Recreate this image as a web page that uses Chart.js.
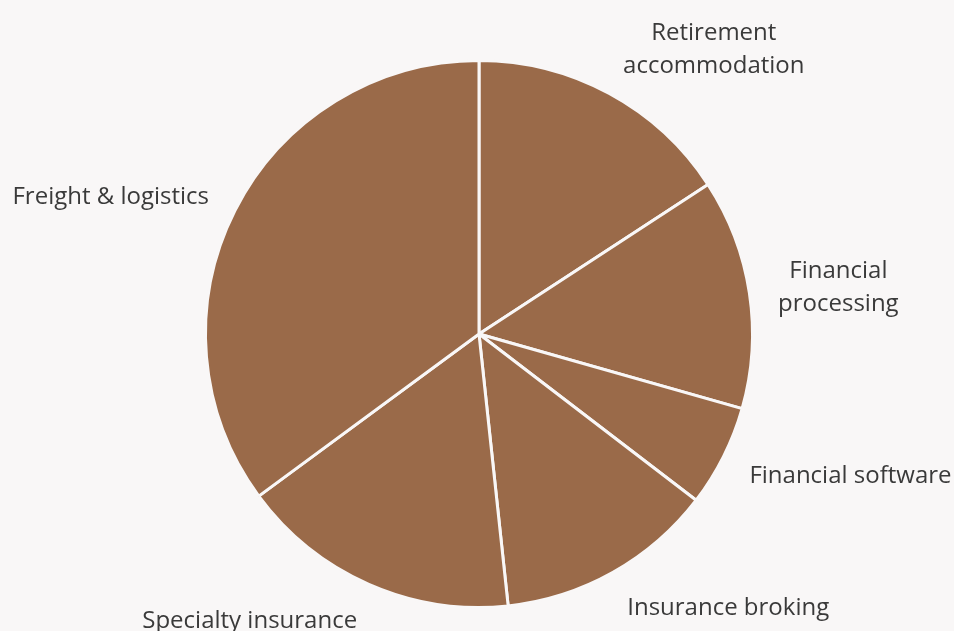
<!DOCTYPE html>
<html>
<head>
<meta charset="utf-8">
<script src="https://cdn.jsdelivr.net/npm/chart.js@4/dist/chart.umd.min.js"></script>
<style>
  html, body { margin: 0; padding: 0; background: #f9f7f7; }
  #wrap { width: 954px; height: 631px; position: relative; }
</style>
</head>
<body>
<div id="wrap"><canvas id="c" width="954" height="631"></canvas></div>
<script>
const categories = [
  ["Retirement", "accommodation"],
  ["Financial", "processing"],
  ["Financial software"],
  ["Insurance broking"],
  ["Specialty insurance"],
  ["Freight & logistics"]
];
const shares = [15.8, 13.6, 6.0, 12.9, 16.6, 35.1];

const sliceColor = "#9a6a49";
const labelColor = "#3a3a3a";
const labelFont = '24px "Open Sans"';
const lineHeight = 33;
const labelGap = 29;

const outsideLabels = {
  id: "outsideLabels",
  afterDatasetsDraw(chart) {
    const ctx = chart.ctx;
    const meta = chart.getDatasetMeta(0);
    ctx.save();
    ctx.font = labelFont;
    ctx.fillStyle = labelColor;
    ctx.textBaseline = "middle";
    meta.data.forEach((arc, i) => {
      const p = arc.getProps(["x", "y", "startAngle", "endAngle", "outerRadius"], true);
      const mid = (p.startAngle + p.endAngle) / 2;
      const r = p.outerRadius + labelGap;
      const ax = p.x + Math.cos(mid) * r;
      const ay = p.y + Math.sin(mid) * r + 8 * Math.sin(mid) + 3;
      const lines = categories[i];
      const right = Math.cos(mid) >= 0;
      ctx.textAlign = right ? "left" : "right";
      const shift = Math.sin(mid) * (lines.length - 1) * lineHeight / 2;
      const y0 = ay + shift - (lines.length - 1) * lineHeight / 2;
      const w = Math.max(...lines.map(l => ctx.measureText(l).width));
      lines.forEach((line, k) => {
        const lw = ctx.measureText(line).width;
        const x = right ? ax + (w - lw) / 2 : ax - (w - lw) / 2;
        ctx.fillText(line, x, y0 + k * lineHeight);
      });
    });
    ctx.restore();
  }
};

new Chart(document.getElementById("c"), {
  type: "pie",
  data: {
    labels: categories.map(c => c.join(" ")),
    datasets: [{
      data: shares,
      backgroundColor: sliceColor,
      borderColor: "#f9f7f7",
      borderWidth: 3,
      hoverOffset: 0
    }]
  },
  options: {
    responsive: false,
    animation: false,
    layout: { padding: { left: 204, right: 200, top: 59, bottom: 22 } },
    plugins: {
      legend: { display: false },
      tooltip: { enabled: false }
    }
  },
  plugins: [outsideLabels]
});
</script>
</body>
</html>
